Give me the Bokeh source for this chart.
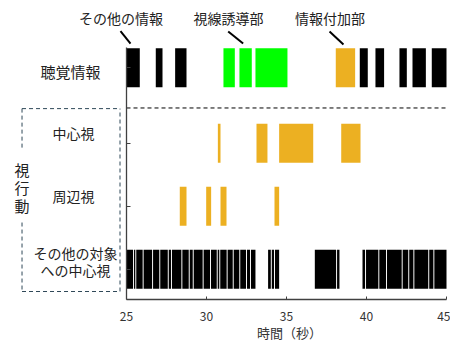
from bokeh.plotting import figure
from bokeh.models import Range1d, FixedTicker, Label, ColumnDataSource
from bokeh.embed import file_html
from bokeh.resources import INLINE

FONT = "Noto Sans CJK JP"

# ---- data (seconds) ----
x_ticks = [25, 30, 35, 40, 45]
row_names = ["聴覚情報", "中心視", "周辺視", "その他の対象への中心視"]

# 聴覚情報 (auditory information)
aud_other_start = [25.0, 26.83, 28.04, 39.58, 40.56, 42.06, 42.875, 44.08]
aud_other_end = [25.83, 27.25, 28.75, 40.08, 41.10, 42.52, 43.71, 45.0]
aud_guide_start = [31.06, 32.06, 33.06]
aud_guide_end = [31.77, 32.83, 35.06]
aud_add_start = [38.08]
aud_add_end = [39.29]

# 中心視 (central vision)
central_start = [30.71, 33.125, 34.54, 38.42]
central_end = [30.875, 33.81, 36.67, 39.625]

# 周辺視 (peripheral vision)
periph_start = [28.33, 29.98, 30.875, 34.25]
periph_end = [28.75, 30.29, 31.25, 34.54]

# その他の対象への中心視 (central vision to other objects)
other_start = [25.0, 25.47, 25.61, 26.07, 26.66, 27.11, 27.64, 27.84, 28.49, 28.95,
               29.20, 29.82, 30.28, 30.70, 30.86, 31.32, 31.70, 32.11, 32.53, 32.78,
               33.85, 34.08, 34.28,
               36.77, 38.16,
               39.75, 39.97, 40.80, 41.28, 42.26, 42.67, 42.99, 43.92, 44.24]
other_end = [25.41, 25.55, 26.01, 26.60, 27.05, 27.58, 27.78, 28.43, 28.89, 29.14,
             29.76, 30.22, 30.64, 30.80, 31.26, 31.64, 32.05, 32.47, 32.72, 33.06,
             34.02, 34.22, 34.54,
             38.10, 38.31,
             39.91, 40.74, 41.22, 42.20, 42.61, 42.93, 43.86, 44.18, 45.0]

# ---- styling / layout ----
ROW_Y = {"聴覚情報": 4.2, "中心視": 3.0, "周辺視": 2.0, "その他の対象への中心視": 1.0}
HALF = 0.31
BLACK = "#000000"
GREEN = "#00ff00"
ORANGE = "#ecb022"
X0, X1 = 25, 45
Y0, Y1 = 0.52, 4.52

# the frame covers the whole canvas so that the side texts are drawn inside it;
# both axes are pinned to the plot's corner with fixed_location
p = figure(frame_width=445, frame_height=345,
           x_range=Range1d(17.4375, 45.25), y_range=Range1d(-0.21, 5.266),
           output_backend="svg", toolbar_location=None,
           min_border_left=5, min_border_right=0, min_border_top=0, min_border_bottom=0)
p.outline_line_color = None
p.xgrid.visible = False
p.ygrid.visible = False
p.background_fill_color = "white"


def add_bars(starts, ends, row, color):
    y = ROW_Y[row]
    src = ColumnDataSource(dict(left=starts, right=ends,
                                bottom=[y - HALF] * len(starts), top=[y + HALF] * len(starts)))
    p.quad(left="left", right="right", bottom="bottom", top="top", source=src,
           fill_color=color, line_color=None)


add_bars(aud_other_start, aud_other_end, "聴覚情報", BLACK)
add_bars(aud_guide_start, aud_guide_end, "聴覚情報", GREEN)
add_bars(aud_add_start, aud_add_end, "聴覚情報", ORANGE)
add_bars(central_start, central_end, "中心視", ORANGE)
add_bars(periph_start, periph_end, "周辺視", ORANGE)
add_bars(other_start, other_end, "その他の対象への中心視", BLACK)

# dashed separator
p.segment(x0=[X0], y0=[3.56], x1=[X1], y1=[3.56], line_color="black",
          line_dash="4 3", line_width=1)

# axes
AX = "#404040"
xa = p.xaxis[0]
xa.fixed_location = Y0
xa.ticker = FixedTicker(ticks=x_ticks)
xa.bounds = (X0, X1)
xa.major_tick_in = 3
xa.major_tick_out = 0
xa.minor_tick_line_color = None
xa.axis_line_color = AX
xa.axis_line_width = 1.3
xa.major_tick_line_color = AX
xa.major_label_text_font = FONT
xa.major_label_text_font_size = "12px"
xa.major_label_text_color = "#333333"
xa.major_label_standoff = 12

ya = p.yaxis[0]
ya.fixed_location = X0
ya.bounds = (Y0, Y1)
ya.ticker = FixedTicker(ticks=[ROW_Y[r] for r in row_names])
ya.major_tick_in = 4
ya.major_tick_out = 0
ya.minor_tick_line_color = None
ya.axis_line_color = AX
ya.axis_line_width = 1.3
ya.major_tick_line_color = AX
ya.major_label_text_color = None
ya.major_label_standoff = 0

TXT = "#222222"


def lab(x, y, text, size="14px", color=TXT):
    p.add_layout(Label(x=x, y=y, text=text, text_font=FONT, text_font_size=size,
                       text_color=color, text_align="center", text_baseline="middle"))


# x axis title, centred under the axis
lab(35.19, 0.0, "時間（秒）", "13px", "#333333")

# row labels
lab(21.5, 4.139, "聴覚情報", "15px")
lab(21.69, 3.155, "中心視")
lab(21.69, 2.155, "周辺視")
lab(21.81, 1.266, "その他の対象")
lab(21.81, 0.996, "への中心視")
lab(18.47, 2.59, "視", "15px")
lab(18.47, 2.295, "行", "15px")
lab(18.47, 2.01, "動", "15px")

# top annotations
lab(24.656, 4.988, "その他の情報")
lab(31.375, 4.988, "視線誘導部")
lab(37.72, 4.988, "情報付加部")

lead_x0 = [24.625, 31.356, 37.69]
lead_y0 = [4.779, 4.774, 4.774]
lead_x1 = [25.25, 32.29, 38.56]
lead_y1 = [4.583, 4.583, 4.568]
p.segment(x0=lead_x0, y0=lead_y0, x1=lead_x1, y1=lead_y1, line_color="black", line_width=2)

# dashed box around the 視行動 rows
BOX = "#2f4858"
bx0, bx1, by0, by1 = 18.47, 24.594, 0.647, 3.55
p.segment(x0=[bx0, bx0, bx1, bx0, bx0], y0=[by1, by0, by0, by1, 1.742],
          x1=[bx1, bx1, bx1, bx0, bx0], y1=[by1, by0, by1, 2.885, by0],
          line_color=BOX, line_width=1, line_dash="4 3")

open("out.html", "w").write(file_html(p, INLINE))
